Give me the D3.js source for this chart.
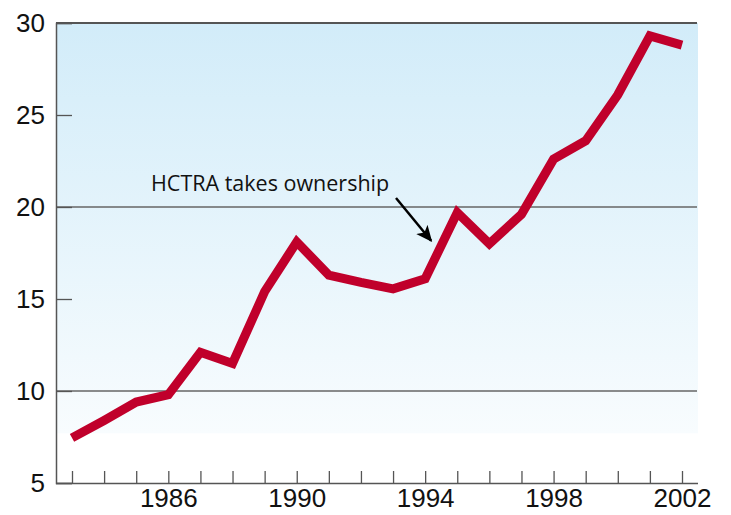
<!DOCTYPE html>
<html>
<head>
<meta charset="utf-8">
<script src="https://cdn.jsdelivr.net/npm/d3@7.9.0/dist/d3.min.js"></script>
<style>
  body { margin: 0; background: #fff; }
  svg { display: block; font-family: "Open Sans", sans-serif; }
</style>
</head>
<body>
<svg id="chart" width="731" height="515"></svg>
<script>
const years = d3.range(1983, 2003);
const values = [7.45, 8.4, 9.4, 9.8, 12.1, 11.5, 15.4, 18.1, 16.3, 15.9, 15.55, 16.1, 19.7, 18.0, 19.6, 22.6, 23.6, 26.1, 29.3, 28.8];
const yTicks = [5, 10, 15, 20, 25, 30];
const gridValues = [10, 20];
const xLabelYears = [1986, 1990, 1994, 1998, 2002];
const note = { text: 'HCTRA takes ownership', year: 1994, value: 16.1 };

const svg = d3.select('#chart');
const plotLeft = 56, plotRight = 698, plotTop = 23, plotBottom = 483;

let x = d3.scaleLinear().domain([1983, 2002]).range([72, 682]);
let y = d3.scaleLinear().domain([5, 30]).range([plotBottom, plotTop]);

// background gradient
const defs = svg.append('defs');
const grad = defs.append('linearGradient')
  .attr('id', 'bg').attr('x1', 0).attr('y1', 0).attr('x2', 0).attr('y2', 1);
grad.append('stop').attr('offset', '0%').attr('stop-color', '#d2ecf9');
grad.append('stop').attr('offset', '100%').attr('stop-color', '#f8fcfe');

svg.append('rect')
  .attr('x', plotLeft).attr('y', plotTop)
  .attr('width', plotRight - plotLeft).attr('height', y(7.7) - plotTop)
  .attr('fill', 'url(#bg)');

// arrow marker
defs.append('marker')
  .attr('id', 'arrow').attr('viewBox', '0 0 10 10')
  .attr('refX', 9).attr('refY', 5)
  .attr('markerWidth', 6.5).attr('markerHeight', 6.5)
  .attr('markerUnits', 'strokeWidth')
  .attr('orient', 'auto')
  .append('path').attr('d', 'M0,0.5 L10,5 L0,9.5 L2.5,5 Z').attr('fill', '#000');

// gridlines
svg.append('g').selectAll('line')
  .data(gridValues).join('line')
  .attr('x1', plotLeft).attr('x2', plotRight - 1)
  .attr('y1', d => y(d)).attr('y2', d => y(d))
  .attr('stroke', '#666').attr('stroke-width', 1.3);

svg.append('line')
  .attr('x1', plotLeft).attr('x2', plotRight - 1)
  .attr('y1', y(30)).attr('y2', y(30))
  .attr('stroke', '#555').attr('stroke-width', 2);

// y axis
const yAxis = svg.append('g')
  .attr('transform', `translate(${plotLeft},0)`)
  .call(d3.axisLeft(y).tickValues(yTicks).tickSize(-16).tickPadding(11));
yAxis.select('.domain').attr('stroke', '#555').attr('stroke-width', 1.5);
yAxis.selectAll('.tick line').attr('stroke', '#555').attr('stroke-width', 1.3);
yAxis.selectAll('.tick text')
  .attr('font-size', 26).attr('fill', '#111').attr('x', -11);

// x axis
const xAxis = svg.append('g')
  .attr('transform', `translate(0,${plotBottom})`)
  .call(d3.axisBottom(x).tickValues(years).tickSize(-12).tickPadding(10)
    .tickFormat(d => xLabelYears.includes(d) ? d : ''));
xAxis.select('.domain').attr('d', `M${plotLeft},0.5H${plotRight}`).attr('stroke', '#555').attr('stroke-width', 1.5);
xAxis.selectAll('.tick line').attr('stroke', '#555').attr('stroke-width', 1.3);
xAxis.selectAll('.tick text')
  .attr('font-size', 26).attr('fill', '#111').attr('y', 2).attr('dy', '0.85em');

// data line
const line = d3.line().x((d, i) => x(years[i])).y(d => y(d));
svg.append('path')
  .datum(values)
  .attr('d', line)
  .attr('fill', 'none')
  .attr('stroke', '#c0002b')
  .attr('stroke-width', 9)
  .attr('stroke-linejoin', 'miter');

// annotation
svg.append('text')
  .attr('x', 151).attr('y', 191)
  .attr('font-size', 21.5).attr('fill', '#111')
  .text(note.text);

svg.append('line')
  .attr('x1', 396).attr('y1', 198)
  .attr('x2', x(note.year) + 6).attr('y2', y(note.value) - 38)
  .attr('stroke', '#000').attr('stroke-width', 2.5)
  .attr('marker-end', 'url(#arrow)');
</script>
</body>
</html>
